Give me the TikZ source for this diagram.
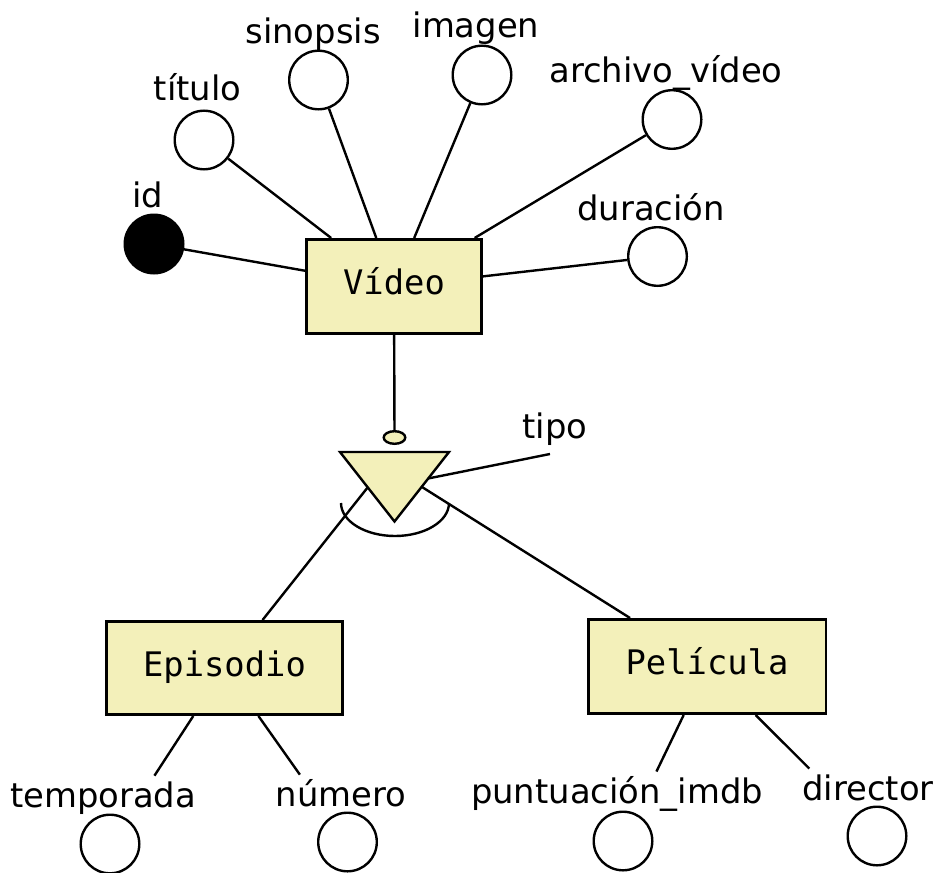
\documentclass[tikz,border=0pt]{standalone}
\usepackage{fontspec}
\setmainfont{DejaVu Sans}
\newfontfamily\ermono{DejaVu Sans Mono}
\usetikzlibrary{shapes.geometric}
\definecolor{erfill}{RGB}{243,240,186}
\begin{document}
\begin{tikzpicture}[x=0.5pt,y=-0.5pt,line width=1.2pt,
  attr/.style={circle,draw,minimum size=29.3pt,inner sep=0pt},
  keyattr/.style={attr,fill=black},
  entity/.style={draw,fill=erfill,line width=1.4pt,
    font=\ermono\fontsize{16.9pt}{20pt}\selectfont,
    minimum height=47.1pt,inner sep=0pt,text height=12.5pt,text depth=4.2pt},
  lbl/.style={anchor=base,inner sep=0pt,font=\fontsize{16.9pt}{20pt}\selectfont}]
\useasboundingbox (0,0) rectangle (941,872);

% entities
\node[entity,minimum width=87.6pt] (video) at (394,286.5) {Vídeo};
\node[entity,minimum width=118.1pt,minimum height=46.6pt] (episodio) at (224.5,668) {Episodio};
\node[entity,minimum width=118.9pt] (pelicula) at (707,666.5) {Película};

% attribute circles
\node[keyattr] (id) at (154,244) {};
\node[attr] (titulo) at (204,140) {};
\node[attr] (sinopsis) at (318.5,80) {};
\node[attr] (imagen) at (482,75) {};
\node[attr] (archivo) at (672,119.5) {};
\node[attr] (duracion) at (657.5,256.5) {};
\node[attr] (temporada) at (110,844) {};
\node[attr] (numero) at (347.5,842) {};
\node[attr] (puntuacion) at (623,841) {};
\node[attr] (director) at (877,836) {};

% labels
\node[lbl] (lid) at (148,207) {id};
\node[lbl] (ltitulo) at (197.5,100) {título};
\node[lbl] (lsinopsis) at (313,44) {sinopsis};
\node[lbl] (limagen) at (476,38) {imagen};
\node[lbl] (larchivo) at (666,83) {archivo\_vídeo};
\node[lbl] (lduracion) at (651,220) {duración};
\node[lbl] (ltipo) at (555,438) {tipo};
\node[lbl] (ltemporada) at (103,807) {temporada};
\node[lbl] (lnumero) at (341,806) {número};
\node[lbl] (lpuntuacion) at (617,803) {puntuación\_imdb};
\node[lbl] (ldirector) at (868,800) {director};

% attribute connectors
\draw (id) -- (video);
\draw (titulo) -- (video);
\draw (sinopsis) -- (video);
\draw (imagen) -- (video);
\draw (archivo) -- (video);
\draw (duracion) -- (video);
\draw[shorten >=25.5pt] (episodio) -- (temporada);
\draw[shorten >=26pt] (episodio) -- (numero);
\draw[shorten >=23.3pt] (pelicula) -- (puntuacion);
\draw[shorten >=32.5pt] (pelicula) -- (director);

% specialization
\node[ellipse,draw,fill=erfill,minimum width=10.8pt,minimum height=6.3pt,inner sep=0pt] (disc) at (394.5,437.5) {};
\draw (video) -- (disc);
\coordinate (tA) at (340,452);
\coordinate (tB) at (449,452);
\coordinate (tC) at (394.5,521.5);
\draw[fill=erfill] (tA) -- (tB) -- (tC) -- cycle;
\coordinate (triTipo) at (428,478.5);
\coordinate (tipoEnd) at (550,454);
\coordinate (triL) at (368,487);
\coordinate (triR) at (422,487);
\draw (tipoEnd) -- (triTipo);
\draw (triL) -- (episodio);
\draw (triR) -- (pelicula);
\draw (341,503) arc[start angle=180,end angle=360,x radius=27pt,y radius=16.5pt];
\end{tikzpicture}
\end{document}
